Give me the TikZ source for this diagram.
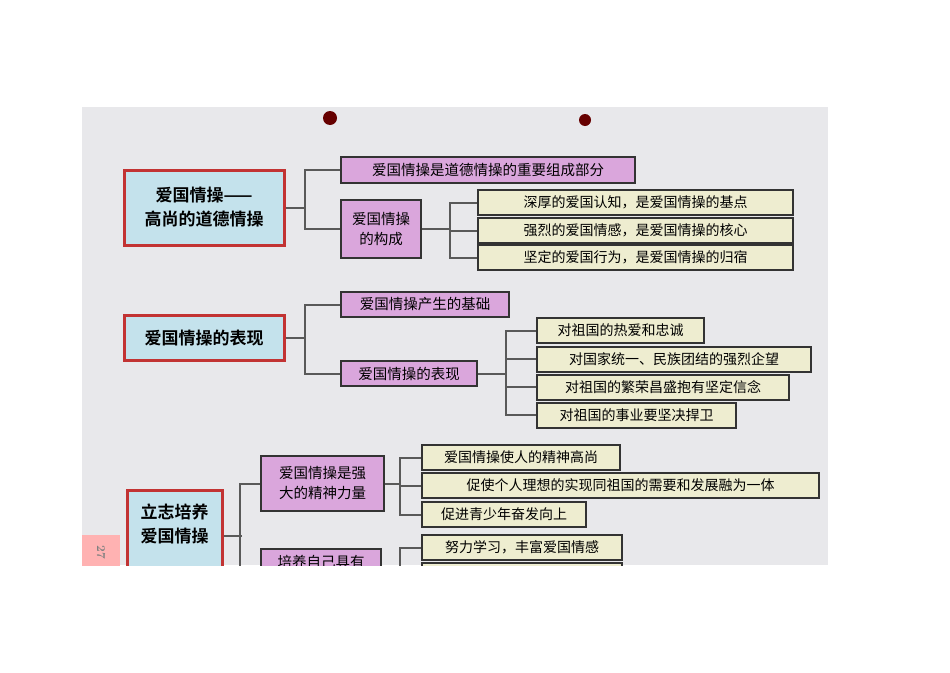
\documentclass[tikz,border=0pt]{standalone}
\usepackage{fontspec}
\newfontfamily\cjk{Noto Sans CJK SC}[BoldFont={Noto Sans CJK SC Bold}]
\definecolor{rootfill}{HTML}{C4E2EC}
\definecolor{midfill}{HTML}{DAA6DC}
\definecolor{leaffill}{HTML}{EEEDD0}
\definecolor{pagebg}{HTML}{E8E8EB}
\begin{document}
\begin{tikzpicture}[x=1pt,y=-1pt,
  box/.style={inner sep=0pt,align=center,font=\cjk\bfseries\color{black!85}},
  root/.style={box,fill=rootfill,draw=red!70!black!80,line width=3pt,font=\cjk\bfseries\fontsize{17}{24}\selectfont},
  mid/.style={box,fill=midfill,draw=black!80,line width=2pt,font=\cjk\fontsize{14.5}{20}\selectfont},
  leaf/.style={box,fill=leaffill,draw=black!80,line width=2pt,font=\cjk\fontsize{14}{18}\selectfont},
  conn/.style={draw=black!65,line width=2pt}]
\useasboundingbox (0,0) rectangle (950,672);
\fill[white] (0,0) rectangle (950,672);
\begin{scope}
\clip (82,107) rectangle (828,565);
\fill[pagebg] (82,107) rectangle (828,565);
\fill[red!40!black] (330,118) circle (7);
\fill[red!40!black] (585,120) circle (6);
\fill[red!30!white] (82,535) rectangle (120,570);
\node[rotate=-90,font=\bfseries\fontsize{12}{12}\selectfont,text=black!50] (pg) at (101,552) {27};
% group 1
\node[root,minimum width=160,minimum height=75] (r1) at (204,207.5) {爱国情操——\\高尚的道德情操};
\node[mid,minimum width=294,minimum height=26,anchor=west] (m11) at (340,170) {爱国情操是道德情操的重要组成部分};
\node[mid,minimum width=80,minimum height=58,anchor=west] (m12) at (340,229) {爱国情操\\的构成};
\node[leaf,minimum width=315,minimum height=25,anchor=west] (l11) at (477,202.5) {深厚的爱国认知，是爱国情操的基点};
\node[leaf,minimum width=315,minimum height=25,anchor=west] (l12) at (477,230.5) {强烈的爱国情感，是爱国情操的核心};
\node[leaf,minimum width=315,minimum height=25,anchor=west] (l13) at (477,257.5) {坚定的爱国行为，是爱国情操的归宿};
\draw[conn] (r1.east) -- ++(20,0);
\draw[conn] (m11.west) -| (305,207.5) |- (m12.west);
\draw[conn] (m12.east) -- (450,229);
\draw[conn] (l11.west) -| (450,229) |- (l13.west);
\draw[conn] (l12.west) -- (450,230.5);
% group 2
\node[root,minimum width=160,minimum height=45] (r2) at (204,338) {爱国情操的表现};
\node[mid,minimum width=168,minimum height=25,anchor=west] (m21) at (340,304.5) {爱国情操产生的基础};
\node[mid,minimum width=136,minimum height=25,anchor=west] (m22) at (340,373.5) {爱国情操的表现};
\node[leaf,minimum width=167,minimum height=25,anchor=west] (l21) at (536,330.5) {对祖国的热爱和忠诚};
\node[leaf,minimum width=274,minimum height=25,anchor=west] (l22) at (536,359) {对国家统一、民族团结的强烈企望};
\node[leaf,minimum width=252,minimum height=25,anchor=west] (l23) at (536,387) {对祖国的繁荣昌盛抱有坚定信念};
\node[leaf,minimum width=199,minimum height=25,anchor=west] (l24) at (536,415) {对祖国的事业要坚决捍卫};
\draw[conn] (r2.east) -- (305,338);
\draw[conn] (m21.west) -| (305,338) |- (m22.west);
\draw[conn] (m22.east) -- (506,373.5);
\draw[conn] (l21.west) -| (506,373.5) |- (l24.west);
\draw[conn] (l22.west) -- (506,359);
\draw[conn] (l23.west) -- (506,387);
% group 3
\node[root,minimum width=95,minimum height=90,anchor=north] (r3) at (174.5,489) {立志培养\\爱国情操\\ };
\node[mid,minimum width=123,minimum height=55,anchor=west] (m31) at (260,483.5) {爱国情操是强\\大的精神力量};
\node[mid,minimum width=120,minimum height=45,anchor=north west] (m32) at (260,548) {培养自己具有\\ };
\node[leaf,minimum width=198,minimum height=25,anchor=west] (l31) at (421,457.5) {爱国情操使人的精神高尚};
\node[leaf,minimum width=397,minimum height=25,anchor=west] (l32) at (421,485.5) {促使个人理想的实现同祖国的需要和发展融为一体};
\node[leaf,minimum width=164,minimum height=25,anchor=west] (l33) at (421,514.5) {促进青少年奋发向上};
\node[leaf,minimum width=200,minimum height=25,anchor=west] (l34) at (421,547.5) {努力学习，丰富爱国情感};
\node[leaf,minimum width=200,minimum height=25,anchor=west] (l35) at (421,575) {};
\draw[conn] (r3.east) -- ++(18,0);
\draw[conn] (m31.west) -| (240,600);
\draw[conn] (m31.east) -- (400,483.5);
\draw[conn] (l31.west) -| (400,485.5) |- (l33.west);
\draw[conn] (l32.west) -- (400,485.5);
\draw[conn] (l34.west) -| (400,600);
\end{scope}
\end{tikzpicture}
\end{document}
